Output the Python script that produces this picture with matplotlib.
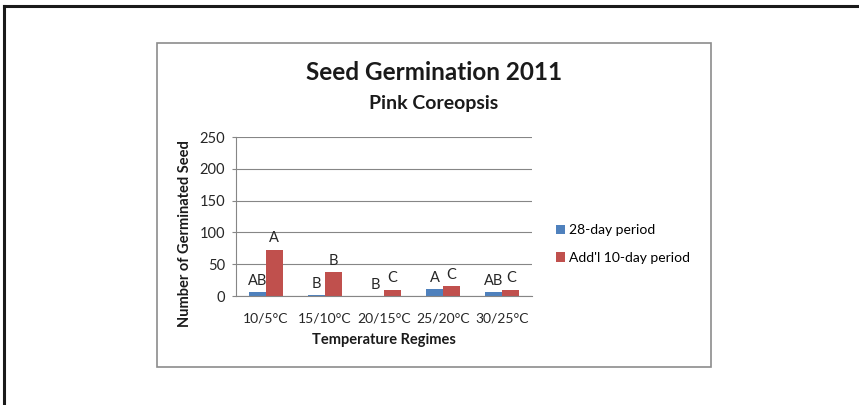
import matplotlib
matplotlib.use("Agg")
import matplotlib.pyplot as plt
import numpy as np
from matplotlib.lines import Line2D
from matplotlib.patches import Rectangle

categories = ["10/5°C", "15/10°C", "20/15°C", "25/20°C", "30/25°C"]
period_28 = [6, 2, 0, 11, 6]
period_add10 = [73, 38, 10, 15, 10]
labels_28 = ["AB", "B", "B", "A", "AB"]
labels_add10 = ["A", "B", "C", "C", "C"]
series_names = ["28-day period", "Add'l 10-day period"]
yticks = [0, 50, 100, 150, 200, 250]

W, H = 859, 405
plt.rcParams['font.family'] = ['Lato', 'DejaVu Sans']
fig = plt.figure(figsize=(W / 100, H / 100), dpi=100)

def fx(x):
    return x / W

def fy(y):
    return 1 - y / H

# outer frame (top and left)
fig.add_artist(Line2D([fx(4), 1.0], [fy(6), fy(6)], color="#1a1a1a", lw=2.2))
fig.add_artist(Line2D([fx(4), fx(4)], [fy(6), 0.0], color="#1a1a1a", lw=2.2))
# inner chart box
fig.add_artist(Rectangle((fx(157), fy(367)), fx(711) - fx(157), fy(43) - fy(367),
                         fill=False, edgecolor="#8c8c8c", lw=1.2))

ax = fig.add_axes([fx(236), fy(296), fx(532) - fx(236), fy(137) - fy(296)])
blue = "#4F81BD"
red = "#C0504D"
x = np.arange(len(categories))
bw = 1 / 3.5
b1 = ax.bar(x - bw / 2, period_28, bw, color=blue, label=series_names[0])
b2 = ax.bar(x + bw / 2, period_add10, bw, color=red, label=series_names[1])
ax.bar_label(b1, labels=labels_28, padding=3, fontsize=10.5, color="#262626")
ax.bar_label(b2, labels=labels_add10, padding=3, fontsize=10.5, color="#262626")

ax.set_xlim(-0.5, len(categories) - 0.5)
ax.set_ylim(0, 250)
ax.set_yticks(yticks)
ax.set_xticks(x)
ax.set_xticklabels(categories, fontsize=10, color="#262626")
ax.tick_params(axis="y", labelsize=10.5, labelcolor="#262626", length=3, color="#868686", pad=5)
ax.tick_params(axis="x", length=0, pad=12)
ax.grid(axis="y", color="#868686", lw=0.8)
ax.set_axisbelow(True)
for s in ["top", "right"]:
    ax.spines[s].set_visible(False)
ax.spines["left"].set_color("#868686")
ax.spines["bottom"].set_color("#868686")

fig.text(fx(434), fy(73), "Seed Germination 2011", ha="center", va="center",
         fontsize=17.5, fontweight="bold", color="#1a1a1a")
fig.text(fx(434), fy(103), "Pink Coreopsis", ha="center", va="center",
         fontsize=14, fontweight="bold", color="#1a1a1a")
fig.text(fx(185), fy(234), "Number of Germinated Seed", ha="center", va="center",
         rotation=90, fontsize=10.5, fontweight="bold", color="#1a1a1a")
fig.text(fx(384), fy(340), "Temperature Regimes", ha="center", va="center",
         fontsize=10.5, fontweight="bold", color="#1a1a1a")

leg = fig.legend(handles=[b1, b2], labels=series_names, loc="center left",
                 bbox_to_anchor=(fx(550), fy(244)), frameon=False, fontsize=10,
                 handlelength=0.7, handleheight=0.7, handletextpad=0.3,
                 labelspacing=1.1, borderaxespad=0)

fig.savefig("out.png", dpi=100)
